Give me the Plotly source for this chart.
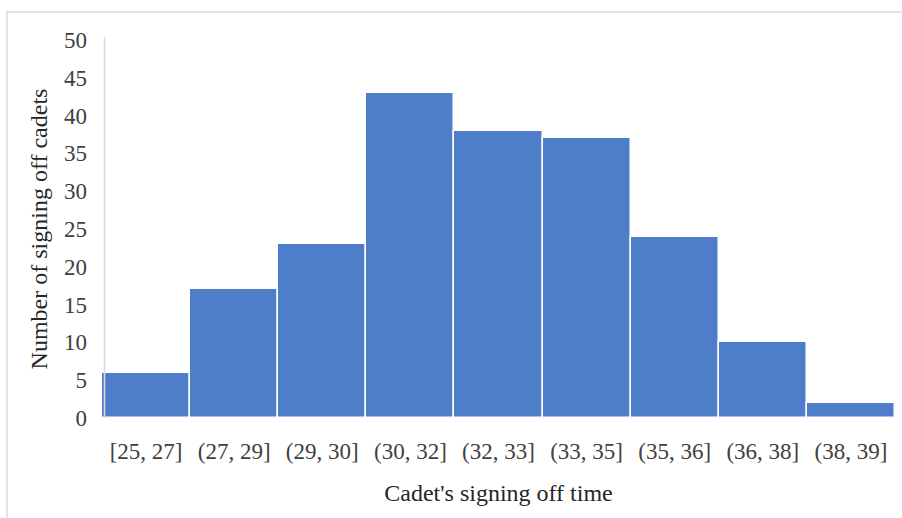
import plotly.graph_objects as go

# Histogram of cadets' signing-off times
bins = ["[25, 27]", "(27, 29]", "(29, 30]", "(30, 32]", "(32, 33]",
        "(33, 35]", "(35, 36]", "(36, 38]", "(38, 39]"]
counts = [6, 17, 23, 43, 38, 37, 24, 10, 2]
y_ticks = [0, 5, 10, 15, 20, 25, 30, 35, 40, 45, 50]

W, H = 902, 518
L, R, T, B = 102, 7, 40, 100
pw, ph = W - L - R, H - T - B

def px_to_paper_x(px):
    return (px - L) / pw

def px_to_paper_y(py):
    return (H - B - py) / ph

font_family = "Liberation Serif, Times New Roman, serif"
fs = 23
title_fs = 24

fig = go.Figure(
    go.Bar(
        x=bins,
        y=counts,
        width=1,
        marker=dict(color="#4e7ec9", line=dict(color="#ffffff", width=1.5)),
    )
)

fig.update_layout(
    width=W,
    height=H,
    margin=dict(l=L, r=R, t=T, b=B),
    paper_bgcolor="white",
    plot_bgcolor="white",
    bargap=0,
    showlegend=False,
    font=dict(family=font_family, size=fs, color="#404040"),
    shapes=[
        # outer chart frame
        dict(
            type="rect", xref="paper", yref="paper",
            x0=px_to_paper_x(7), x1=px_to_paper_x(906),
            y0=px_to_paper_y(522), y1=px_to_paper_y(12),
            line=dict(color="#d9d9d9", width=1.5),
            fillcolor="rgba(0,0,0,0)",
            layer="below",
        ),
        # vertical value-axis line
        dict(
            type="line", xref="paper", yref="paper",
            x0=px_to_paper_x(104.5), x1=px_to_paper_x(104.5),
            y0=0, y1=px_to_paper_y(37),
            line=dict(color="#d9d9d9", width=1.5),
            layer="above",
        ),
    ],
)

fig.update_xaxes(
    type="category",
    range=[-0.5, len(bins) - 0.5],
    showline=False,
    showgrid=False,
    ticks="",
    ticklabelstandoff=17,
    tickfont=dict(family=font_family, size=fs, color="#404040"),
    title=dict(text="Cadet's signing off time",
               font=dict(family=font_family, size=title_fs, color="#262626"),
               standoff=21),
)

fig.update_yaxes(
    range=[0, 50],
    tickvals=y_ticks,
    showgrid=False,
    zeroline=False,
    showline=False,
    ticks="",
    ticklabelstandoff=14,
    tickfont=dict(family=font_family, size=fs, color="#404040"),
    title=dict(text="Number of signing off cadets",
               font=dict(family=font_family, size=title_fs, color="#262626"),
               standoff=9),
)

fig.write_html("out.html")
